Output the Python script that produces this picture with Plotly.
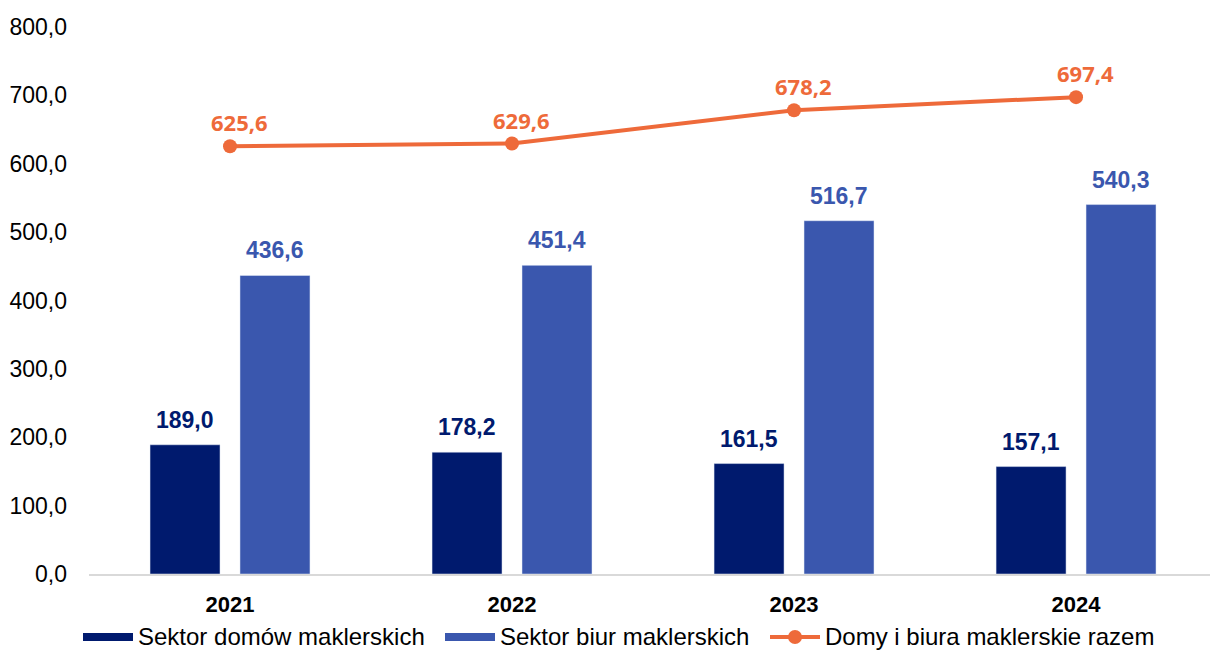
import plotly.graph_objects as go

years = ["2021", "2022", "2023", "2024"]
domy = [189.0, 178.2, 161.5, 157.1]
biura = [436.6, 451.4, 516.7, 540.3]
razem = [625.6, 629.6, 678.2, 697.4]

names = ["Sektor domów maklerskich", "Sektor biur maklerskich",
         "Domy i biura maklerskie razem"]
navy = "#001A6E"
blue = "#3A57AE"
orange = "#EE6A3A"

W, H = 1210, 651
L, T, B = 89, 27, 77


def px_x(px):
    return (px - L) / (W - L)


def px_y(py):
    return (H - B - py) / (H - B - T)


def fmt(v):
    return f"{v:.1f}".replace(".", ",")


fig = go.Figure()
fig.add_trace(go.Bar(x=years, y=domy, name=names[0], marker_color=navy))
fig.add_trace(go.Bar(x=years, y=biura, name=names[1], marker_color=blue))
fig.add_trace(go.Scatter(
    x=years, y=razem, name=names[2], mode="lines+markers",
    line=dict(color=orange, width=4), marker=dict(size=14, color=orange),
))

annotations = []
# value labels, placed from the data values (category index on the x axis)
for series, col, shift, fam, size, up in [
        (domy, navy, -45, "Liberation Sans", 23, 25),
        (biura, blue, 45, "Liberation Sans", 23, 25),
        (razem, orange, 9, "Open Sans", 22, 24)]:
    for i, v in enumerate(series):
        annotations.append(dict(
            x=i, y=v, xshift=shift, yshift=up, text=f"<b>{fmt(v)}</b>",
            showarrow=False, xanchor="center", yanchor="middle",
            font=dict(family=fam, size=size, color=col)))

# legend drawn by hand (wide flat swatches as in the original)
shapes = []
legend_y = 637
items = [(83, names[0], "bar", navy), (445, names[1], "bar", blue),
         (770, names[2], "line", orange)]
for x0, label, kind, col in items:
    if kind == "bar":
        shapes.append(dict(type="rect", xref="paper", yref="paper",
                           x0=px_x(x0), x1=px_x(x0 + 50),
                           y0=px_y(legend_y + 4), y1=px_y(legend_y - 4),
                           fillcolor=col, line_width=0))
    else:
        shapes.append(dict(type="line", xref="paper", yref="paper",
                           x0=px_x(x0), x1=px_x(x0 + 50),
                           y0=px_y(legend_y), y1=px_y(legend_y),
                           line=dict(color=col, width=4)))
        shapes.append(dict(type="circle", xref="paper", yref="paper",
                           x0=px_x(x0 + 18), x1=px_x(x0 + 32),
                           y0=px_y(legend_y + 7), y1=px_y(legend_y - 7),
                           fillcolor=col, line_width=0))
    annotations.append(dict(text=label, xref="paper", yref="paper",
                            x=px_x(x0 + 53), y=px_y(legend_y),
                            xanchor="left", yanchor="middle", showarrow=False,
                            font=dict(family="Liberation Sans", size=24,
                                      color="#000000")))

fig.update_layout(
    width=W, height=H,
    margin=dict(l=L, r=0, t=T, b=B),
    plot_bgcolor="white", paper_bgcolor="white",
    barmode="group", bargap=0.362, bargroupgap=0.222,
    separators=", ",
    showlegend=False,
    shapes=shapes, annotations=annotations,
    font=dict(family="Liberation Sans", color="#000000"),
)
fig.update_xaxes(
    type="category",
    range=[-0.5, 3.475], showgrid=False, showline=True,
    linecolor="#D9D9D9", linewidth=2, ticks="",
    tickfont=dict(family="Liberation Sans", size=22, color="#000000"),
    ticklabelstandoff=10, tickprefix="<b>", ticksuffix="</b>",
)
fig.update_yaxes(
    range=[0, 800], dtick=100, tickformat=".1f", showgrid=False,
    zeroline=False, showline=False, ticks="",
    tickfont=dict(family="Liberation Sans", size=23, color="#000000"),
    ticklabelstandoff=21,
)

fig.write_html("out.html", config={"displayModeBar": False},
               post_script="document.body.style.margin='0px';")
